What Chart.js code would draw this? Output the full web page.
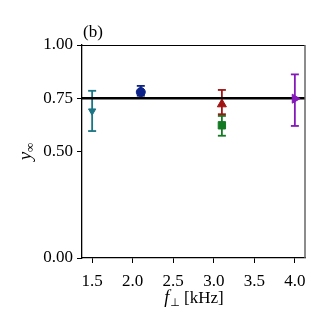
<!DOCTYPE html>
<html>
<head>
<meta charset="utf-8">
<script src="https://cdn.jsdelivr.net/npm/chart.js@4"></script>
<style>
  html, body { margin: 0; padding: 0; background: #fff; }
  #wrap { width: 329px; height: 327px; }
</style>
</head>
<body>
<div id="wrap"><canvas id="chart"></canvas></div>
<script>
// data
const xTicks = [1.5, 2.0, 2.5, 3.0, 3.5, 4.0];
const yTicks = [0, 0.5, 0.75, 1.0];
const xRange = [1.375, 4.125];
const yRange = [0, 1];
const freqs = [1.5, 2.1, 3.1, 3.1, 4.0];
const yInf = [0.690, 0.779, 0.722, 0.623, 0.748];
const errLow = [0.596, 0.762, 0.675, 0.574, 0.620];
const errHigh = [0.785, 0.808, 0.789, 0.667, 0.862];
const refLevel = 0.75;
const panelLabel = "(b)";

// styles, one per point
const colors = ["#1a7585", "#0c2288", "#a01414", "#137a23", "#8418b8"];
const markers = ["triangle", "circle", "triangle", "rect", "triangle"];
const rotations = [180, 0, 0, 0, 90];
const radii = [4.2, 4.5, 5.2, 5.2, 5.2];

const SERIF = "'Liberation Serif', 'DejaVu Serif', serif";

const datasets = [];

// error bars: vertical segment with flat caps
freqs.forEach((f, i) => {
  datasets.push({
    type: "line",
    data: [{ x: f, y: errLow[i] }, { x: f, y: errHigh[i] }],
    borderColor: colors[i],
    borderWidth: 1.8,
    pointStyle: "line",
    pointRadius: 4,
    pointBorderWidth: 1.8,
    pointBorderColor: colors[i],
    order: 3,
  });
});

// reference level
datasets.push({
  type: "line",
  data: [{ x: xRange[0], y: refLevel }, { x: xRange[1], y: refLevel }],
  borderColor: "#000",
  borderWidth: 2.5,
  pointRadius: 0,
  order: 2,
});

// markers
freqs.forEach((f, i) => {
  datasets.push({
    type: "scatter",
    data: [{ x: f, y: yInf[i] }],
    pointStyle: markers[i],
    rotation: rotations[i],
    pointRadius: radii[i],
    backgroundColor: colors[i],
    borderColor: colors[i],
    borderWidth: 1,
    order: 1,
  });
});

// frame, panel label and axis titles
const decor = {
  id: "decor",
  afterDraw(chart) {
    const { ctx, chartArea: a } = chart;
    ctx.save();
    ctx.lineWidth = 1;
    ctx.strokeStyle = "#000";
    ctx.beginPath();
    ctx.moveTo(a.left, a.top + 0.5);
    ctx.lineTo(a.right, a.top + 0.5);
    ctx.stroke();
    ctx.strokeStyle = "#666";
    ctx.lineWidth = 1.5;
    ctx.beginPath();
    ctx.moveTo(a.right, a.top);
    ctx.lineTo(a.right, a.bottom);
    ctx.stroke();

    ctx.fillStyle = "#000";
    ctx.textBaseline = "alphabetic";
    ctx.textAlign = "left";
    ctx.font = "17px " + SERIF;
    ctx.fillText(panelLabel, a.left + 1, a.top - 8);

    // x title: f⊥ [kHz]
    const cx = (a.left + a.right) / 2;
    const by = 303;
    ctx.font = "italic 18px " + SERIF;
    const wf = ctx.measureText("f").width;
    ctx.font = "11px 'DejaVu Sans', sans-serif";
    const wp = ctx.measureText("\u22A5").width;
    ctx.font = "17px " + SERIF;
    const wk = ctx.measureText(" [kHz]").width;
    let x = cx - (wf + wp + wk) / 2;
    ctx.font = "italic 18px " + SERIF;
    ctx.fillText("f", x, by);
    x += wf + 1;
    ctx.font = "11px 'DejaVu Sans', sans-serif";
    ctx.fillText("\u22A5", x, by + 3);
    x += wp;
    ctx.font = "17px " + SERIF;
    ctx.fillText(" [kHz]", x, by);

    // y title: y∞
    const cy = (a.top + a.bottom) / 2;
    ctx.translate(31, cy);
    ctx.rotate(-Math.PI / 2);
    ctx.font = "italic 19px " + SERIF;
    const wy = ctx.measureText("y").width;
    ctx.font = "13px " + SERIF;
    const wi = ctx.measureText("\u221E").width;
    ctx.font = "italic 19px " + SERIF;
    ctx.fillText("y", -(wy + wi) / 2, 0);
    ctx.font = "13px " + SERIF;
    ctx.fillText("\u221E", -(wy + wi) / 2 + wy, 3);
    ctx.restore();
  },
};

new Chart(document.getElementById("chart"), {
  data: { datasets },
  options: {
    responsive: true,
    maintainAspectRatio: false,
    animation: false,
    layout: { padding: { top: 45, right: 24, bottom: 0, left: 0 } },
    plugins: { legend: { display: false }, tooltip: { enabled: false } },
    scales: {
      x: {
        type: "linear",
        min: xRange[0],
        max: xRange[1],
        afterBuildTicks: (s) => { s.ticks = xTicks.map(v => ({ value: v })); },
        afterFit: (s) => { s.height = 69; },
        ticks: {
          color: "#000",
          font: { family: SERIF, size: 17 },
          padding: 8,
          callback: (v) => Number(v).toFixed(1),
        },
        grid: { drawOnChartArea: false, tickLength: 5, color: "#000" },
        border: { color: "#000", width: 1.3 },
      },
      y: {
        type: "linear",
        min: yRange[0],
        max: yRange[1],
        afterBuildTicks: (s) => { s.ticks = yTicks.map(v => ({ value: v })); },
        afterFit: (s) => { s.width = 82; },
        ticks: {
          color: "#000",
          font: { family: SERIF, size: 17 },
          padding: 4,
          callback: (v) => Number(v).toFixed(2),
        },
        grid: { drawOnChartArea: false, tickLength: 5, color: "#000" },
        border: { color: "#000", width: 1.3 },
      },
    },
  },
  plugins: [decor],
});
</script>
</body>
</html>
